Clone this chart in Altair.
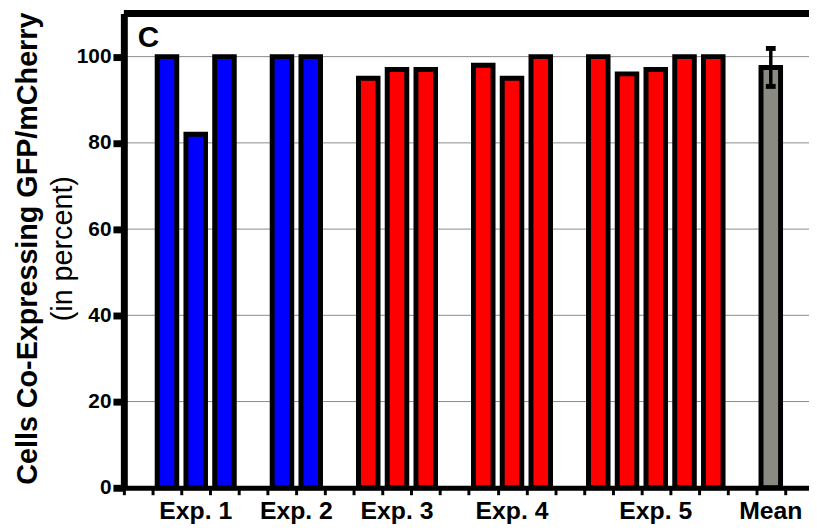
import altair as alt
import pandas as pd

# ---- data ----
groups = ["Exp. 1", "Exp. 2", "Exp. 3", "Exp. 4", "Exp. 5"]
exp_values = [
    [100, 82, 100],
    [100, 100],
    [95, 97, 97],
    [98, 95, 100],
    [100, 96, 97, 100, 100],
]
mean_label = "Mean"
mean_value = 97.5
mean_err = 4.4
y_ticks = [0, 20, 40, 60, 80, 100]
y_title = "Cells Co-Expressing GFP/mCherry"
y_subtitle = "(in percent)"
panel_letter = "C"

# ---- styling ----
group_colors = ["#0000FF", "#0000FF", "#FF0000", "#FF0000", "#FF0000"]
mean_color = "#8A8A82"
FONT = "Liberation Sans"
W, H = 692, 479
SLOT_PX = 29.04
XMAX = W / SLOT_PX

# ---- build tables ----
rows, labels = [], []
slot = 1
for g, vals, col in zip(groups, exp_values, group_colors):
    for v in vals:
        rows.append({"slot": slot, "value": v, "color": col})
        slot += 1
    labels.append({"label": g, "center": slot - len(vals) / 2})
    slot += 1
mean_slot = slot
rows.append({"slot": mean_slot, "value": mean_value, "color": mean_color})
labels.append({"label": mean_label, "center": mean_slot + 0.5})

bars_df = pd.DataFrame(rows)
labels_df = pd.DataFrame(labels)
err_df = pd.DataFrame([{"slot": mean_slot, "mean": mean_value, "err": mean_err}])
grid_df = pd.DataFrame({"g": y_ticks[1:]})

xscale = alt.Scale(domain=[0, XMAX], nice=False, zero=False)
yscale = alt.Scale(domain=[0, 110], nice=False)

xaxis = alt.Axis(
    values=list(range(0, 24)), labels=False, title=None, grid=False,
    domainWidth=5, domainColor="black", tickColor="black",
    tickWidth=3, tickSize=7, zindex=1)
yaxis = alt.Axis(
    values=y_ticks, title=None, grid=False,
    domainWidth=7, domainColor="black", tickColor="black",
    tickWidth=7, tickSize=11, labelFont=FONT, labelFontSize=21,
    labelFontWeight="bold", labelColor="black", labelPadding=2, zindex=1)

grid = alt.Chart(grid_df).mark_rule(color="#8a8a8a", strokeWidth=1).encode(
    y=alt.Y("g:Q", scale=yscale, axis=yaxis),
)

bars = alt.Chart(bars_df).transform_calculate(
    x1="datum.slot + 0.16", x2="datum.slot + 0.84"
).mark_rect(stroke="black", strokeWidth=5).encode(
    x=alt.X("x1:Q", scale=xscale, axis=xaxis),
    x2="x2:Q",
    y=alt.Y("value:Q", scale=yscale, axis=yaxis),
    y2=alt.datum(0),
    color=alt.Color("color:N", scale=None),
)

err_base = alt.Chart(err_df).transform_calculate(
    lo="datum.mean - datum.err", hi="datum.mean + datum.err",
    xc="datum.slot + 0.5", xa="datum.slot + 0.33", xb="datum.slot + 0.67",
)
err_line = err_base.mark_rule(color="black", strokeWidth=3.5).encode(
    x=alt.X("xc:Q", scale=xscale, axis=xaxis),
    y=alt.Y("lo:Q", scale=yscale, axis=yaxis),
    y2="hi:Q",
)
cap_hi = err_base.mark_rule(color="black", strokeWidth=5).encode(
    x=alt.X("xa:Q", scale=xscale, axis=xaxis), x2="xb:Q",
    y=alt.Y("hi:Q", scale=yscale, axis=yaxis),
)
cap_lo = err_base.mark_rule(color="black", strokeWidth=5).encode(
    x=alt.X("xa:Q", scale=xscale, axis=xaxis), x2="xb:Q",
    y=alt.Y("lo:Q", scale=yscale, axis=yaxis),
)

xlabels = alt.Chart(labels_df).mark_text(
    font=FONT, fontSize=25, fontWeight="bold", color="black",
    align="center", baseline="alphabetic",
).encode(
    x=alt.X("center:Q", scale=xscale, axis=xaxis),
    y=alt.value(H + 32),
    text="label:N",
)

one = pd.DataFrame({"t": [panel_letter], "a": [y_title], "b": [y_subtitle]})

top_border = alt.Chart(one).mark_rule(color="black", strokeWidth=7).encode(
    x=alt.value(0), x2=alt.value(W), y=alt.value(0)
)

letter = alt.Chart(one).mark_text(
    font=FONT, fontSize=30, fontWeight="bold", color="black",
    align="left", baseline="alphabetic",
).encode(x=alt.value(14), y=alt.value(34), text="t:N")

title1 = alt.Chart(one).mark_text(
    font=FONT, fontSize=29, fontWeight="bold", color="black",
    align="center", baseline="alphabetic", angle=270,
).encode(x=alt.value(-88), y=alt.value(H / 2 - 2), text="a:N")

title2 = alt.Chart(one).mark_text(
    font=FONT, fontSize=29, fontWeight="normal", color="black",
    align="center", baseline="alphabetic", angle=270,
).encode(x=alt.value(-52), y=alt.value(H / 2 - 2), text="b:N")

chart = alt.layer(
    grid, bars, err_line, cap_hi, cap_lo, xlabels, top_border, letter, title1, title2
).properties(
    width=W, height=H,
    autosize=alt.AutoSizeParams(type="none"),
    padding={"left": 117, "top": 3, "right": 0, "bottom": 34},
).configure_view(stroke=None).configure(background="white")

chart.save("out.html", embed_options={"renderer": "svg", "actions": False})
